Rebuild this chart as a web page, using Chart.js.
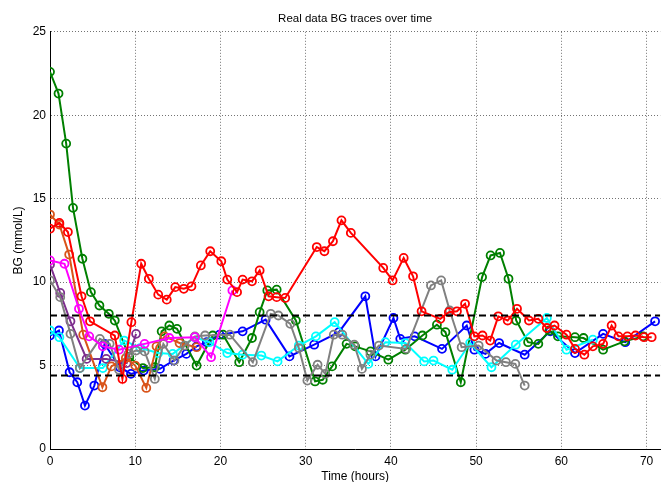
<!DOCTYPE html>
<html>
<head>
<meta charset="utf-8">
<script src="https://cdn.jsdelivr.net/npm/chart.js@4.4.0/dist/chart.umd.min.js"></script>
<style>
  html, body { margin: 0; padding: 0; background: #fff; overflow: hidden; }
  #marco { width: 661px; height: 482px; overflow: hidden; }
</style>
</head>
<body>
<div id="marco"><canvas id="grafico" width="666" height="482"></canvas></div>
<script>
// Datos (horas, mmol/L)
const ticksX = [0, 10, 20, 30, 40, 50, 60, 70];
const ticksY = [0, 5, 10, 15, 20, 25];

const horasMeta = [0, 71.6];
const metaAlta = [8, 8];
const metaBaja = [4.4, 4.4];

const azulHoras = [0, 1.05, 2.3, 3.2, 4.1, 5.2, 6.4, 8.2, 9.5, 11.0, 12.9, 14.5, 16.0, 17.2, 18.4, 19.9, 22.6, 25.3, 28.1, 31.0, 33.9, 37.0, 38.2, 40.3, 41.1, 42.8, 46.0, 48.9, 49.8, 51.1, 52.7, 55.7, 58.7, 61.6, 64.9, 67.5, 71.0];
const azulBG = [6.8, 7.1, 4.6, 4.0, 2.6, 3.8, 6.3, 4.9, 4.5, 4.7, 4.8, 5.3, 5.7, 6.15, 6.4, 6.85, 7.05, 7.75, 5.55, 6.25, 7.0, 9.15, 5.55, 7.85, 6.6, 6.75, 6.0, 7.4, 5.95, 5.7, 6.35, 5.65, 7.05, 5.75, 6.9, 6.4, 7.65];

const verdeHoras = [0, 1.0, 1.9, 2.7, 3.8, 4.8, 5.8, 6.9, 7.6, 9.3, 10.9, 12.3, 13.1, 14.0, 14.9, 17.2, 19.1, 20.3, 22.2, 23.7, 24.6, 25.5, 26.6, 28.85, 31.1, 32.0, 33.1, 34.8, 35.8, 37.6, 39.7, 41.7, 43.7, 45.4, 46.4, 48.2, 50.7, 51.7, 52.8, 53.8, 54.7, 56.1, 57.3, 58.6, 59.6, 61.6, 62.6, 64.9, 67.4, 69.6];
const verdeBG = [22.6, 21.3, 18.3, 14.45, 11.4, 9.4, 8.6, 8.1, 7.7, 5.5, 4.85, 4.9, 7.05, 7.4, 7.2, 5.0, 6.8, 6.85, 5.2, 6.65, 8.2, 9.5, 9.55, 7.7, 4.05, 4.15, 4.95, 6.3, 6.15, 5.85, 5.35, 5.95, 6.8, 7.45, 7.0, 4.0, 10.3, 11.6, 11.75, 10.2, 7.7, 6.4, 6.3, 7.1, 6.75, 6.7, 6.65, 5.95, 6.45, 6.75];

const rojoHoras = [0, 1.1, 2.1, 3.7, 4.7, 7.6, 8.5, 9.55, 10.7, 11.6, 12.7, 13.7, 14.7, 15.7, 16.6, 17.7, 18.8, 20.1, 20.8, 21.95, 22.6, 23.7, 24.6, 25.65, 26.6, 27.6, 31.3, 32.2, 33.2, 34.2, 35.3, 39.1, 40.2, 41.5, 42.6, 43.6, 45.8, 46.8, 47.75, 48.7, 49.8, 50.75, 51.65, 52.6, 53.7, 54.8, 56.2, 57.3, 58.3, 59.2, 60.6, 61.6, 62.7, 63.7, 64.9, 65.9, 66.7, 67.75, 68.7, 69.7, 70.6];
const rojoBG = [13.2, 13.55, 13.0, 9.15, 7.65, 6.8, 4.2, 7.6, 11.1, 10.2, 9.25, 8.95, 9.7, 9.6, 9.75, 11.0, 11.85, 11.25, 10.15, 9.4, 10.15, 10.05, 10.7, 9.15, 9.1, 9.05, 12.1, 11.85, 12.45, 13.7, 12.95, 10.85, 10.1, 11.45, 10.35, 8.25, 7.8, 8.2, 8.25, 8.7, 6.75, 6.8, 6.5, 7.95, 7.7, 8.4, 7.7, 7.8, 7.25, 7.4, 6.85, 6.0, 5.65, 6.15, 6.3, 7.4, 6.75, 6.75, 6.8, 6.7, 6.7];

const cianHoras = [0, 1.1, 3.5, 6.2, 8.7, 10.6, 12.7, 14.4, 17.0, 18.7, 20.8, 22.6, 24.8, 26.7, 29.2, 31.2, 33.4, 37.35, 39.35, 41.7, 43.9, 45.0, 47.2, 49.3, 51.8, 54.65, 58.3, 60.6, 63.7];
const cianBG = [7.1, 6.7, 4.85, 4.85, 6.5, 6.05, 5.75, 5.7, 6.7, 6.4, 5.75, 5.65, 5.6, 5.25, 6.2, 6.75, 7.6, 5.1, 6.4, 6.35, 5.25, 5.3, 4.75, 6.35, 4.9, 6.25, 7.85, 5.95, 6.55];

const magentaHoras = [0, 1.7, 3.4, 4.6, 6.2, 8.1, 11.1, 14.0, 17.0, 18.9, 21.4];
const magentaBG = [11.3, 11.1, 8.4, 6.75, 6.15, 5.95, 6.3, 6.65, 6.7, 5.5, 9.5];

const naranjaHoras = [0, 1.1, 2.25, 3.9, 6.15, 7.2, 8.9, 10.0, 11.3, 12.5, 13.45, 15.2, 17.2];
const naranjaBG = [14.05, 13.45, 11.65, 6.85, 3.7, 4.95, 5.45, 5.0, 3.66, 6.15, 6.75, 6.35, 6.1];

const moradoHoras = [0, 1.2, 2.4, 4.3, 6.6, 9.0, 10.1];
const moradoBG = [11.05, 9.35, 7.65, 5.4, 5.4, 5.15, 6.9];

const grisHoras = [0, 1.2, 2.4, 3.5, 5.85, 7.0, 8.1, 9.2, 10.1, 11.1, 12.3, 13.3, 14.6, 15.8, 17.0, 18.2, 21.1, 23.8, 25.9, 26.8, 28.2, 29.2, 30.2, 31.4, 32.3, 33.3, 34.3, 35.7, 36.6, 37.6, 38.6, 41.8, 44.7, 45.9, 46.9, 48.3, 50.3, 52.4, 53.5, 54.6, 55.7];
const grisBG = [10.1, 9.1, 6.9, 4.85, 6.6, 6.3, 4.75, 5.7, 5.9, 5.85, 4.2, 6.3, 5.3, 6.2, 6.75, 6.8, 6.85, 5.2, 8.1, 8.0, 7.5, 6.05, 4.1, 5.05, 4.5, 6.85, 6.85, 6.25, 4.8, 5.65, 6.2, 6.0, 9.8, 10.1, 8.3, 6.1, 6.2, 5.3, 5.2, 5.1, 3.8];

// Junta horas y valores en puntos {x, y}
function puntos(horas, valores) {
  return horas.map((h, i) => ({ x: h, y: valores[i] }));
}

// Traza con marcadores circulares abiertos (estilo MATLAB)
function traza(nombre, horas, valores, color) {
  return {
    label: nombre,
    data: puntos(horas, valores),
    borderColor: color,
    backgroundColor: 'rgba(0,0,0,0)',
    borderWidth: 2,
    pointRadius: 4,
    pointBorderWidth: 1.8,
    pointBorderColor: color,
    pointBackgroundColor: 'rgba(0,0,0,0)',
    tension: 0
  };
}

function meta(nombre, valores) {
  return {
    label: nombre,
    data: puntos(horasMeta, valores),
    borderColor: '#000000',
    borderWidth: 2,
    borderDash: [7, 4],
    pointRadius: 0,
    tension: 0
  };
}

Chart.defaults.font.family = '"Liberation Sans", Arial, sans-serif';
Chart.defaults.color = '#000';

const ctx = document.getElementById('grafico').getContext('2d');
new Chart(ctx, {
  type: 'line',
  data: {
    datasets: [
      meta('Meta alta', metaAlta),
      meta('Meta baja', metaBaja),
      traza('Rojo', rojoHoras, rojoBG, '#ff0000'),
      traza('Magenta', magentaHoras, magentaBG, '#ff00ff'),
      traza('Gris', grisHoras, grisBG, '#808080'),
      traza('Naranja', naranjaHoras, naranjaBG, '#d95319'),
      traza('Morado', moradoHoras, moradoBG, '#7e2f8e'),
      traza('Cian', cianHoras, cianBG, '#00ffff'),
      traza('Verde', verdeHoras, verdeBG, '#008000'),
      traza('Azul', azulHoras, azulBG, '#0000ff')
    ]
  },
  options: {
    responsive: false,
    devicePixelRatio: 1,
    animation: false,
    layout: { padding: 0 },
    plugins: {
      legend: { display: false },
      tooltip: { enabled: false },
      title: {
        display: true,
        text: 'Real data BG traces over time',
        fullSize: false,
        font: { size: 11.5, weight: 'normal' },
        color: '#000',
        padding: { top: 12, bottom: 6 }
      }
    },
    scales: {
      x: {
        type: 'linear',
        min: 0,
        max: 71.6,
        afterBuildTicks: s => { s.ticks = ticksX.map(v => ({ value: v })); },
        afterFit: s => { s.height = 33; s.paddingLeft = 0; s.paddingRight = 0; },
        ticks: { font: { size: 12 }, color: '#000', padding: 5 },
        grid: { color: 'rgba(0,0,0,0.55)', lineWidth: 1, drawTicks: false },
        border: { display: true, color: '#000', width: 1, dash: [1, 2] },
        title: { display: true, text: 'Time (hours)', font: { size: 12 }, color: '#000', padding: { top: 0, bottom: -2 } }
      },
      y: {
        min: 0,
        max: 25,
        afterBuildTicks: s => { s.ticks = ticksY.map(v => ({ value: v })); },
        afterFit: s => { s.width = 50; },
        ticks: { font: { size: 12 }, color: '#000', padding: 4 },
        grid: { color: 'rgba(0,0,0,0.55)', lineWidth: 1, drawTicks: false },
        border: { display: true, color: '#000', width: 1, dash: [1, 2] },
        title: { display: true, text: 'BG (mmol/L)', font: { size: 12 }, color: '#000', padding: { top: 11, bottom: 0 } }
      }
    }
  }
});
</script>
</body>
</html>
